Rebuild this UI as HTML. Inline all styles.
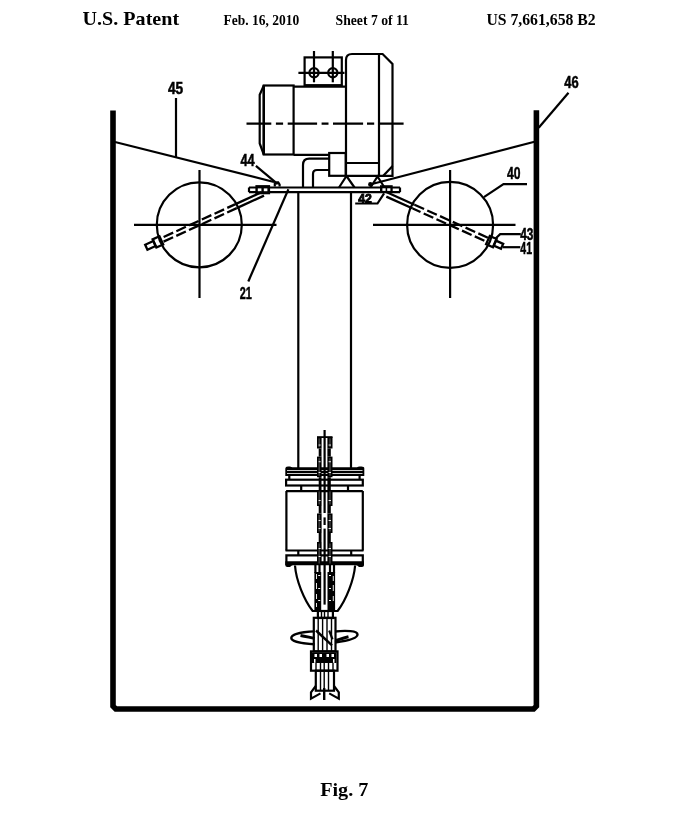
<!DOCTYPE html>
<html><head><meta charset="utf-8">
<style>
html,body{margin:0;padding:0;background:#fff;}
body{width:689px;height:816px;overflow:hidden;position:relative;}
svg{position:absolute;left:0;top:0;will-change:transform;}
.hd{font-family:"Liberation Serif",serif;font-weight:bold;fill:#000;}
.lb{font-family:"Liberation Sans",sans-serif;font-weight:bold;fill:#000;stroke:#000;stroke-width:0.5;}
</style></head><body>
<svg width="689" height="816" viewBox="0 0 689 816">
<!-- header -->
<text class="hd" x="82.6" y="24.8" font-size="19" textLength="96.5" lengthAdjust="spacingAndGlyphs">U.S. Patent</text>
<text class="hd" x="223.4" y="24.6" font-size="14" textLength="75.8" lengthAdjust="spacingAndGlyphs">Feb. 16, 2010</text>
<text class="hd" x="335.6" y="24.6" font-size="14" textLength="73.3" lengthAdjust="spacingAndGlyphs">Sheet 7 of 11</text>
<text class="hd" x="486.4" y="24.6" font-size="16" textLength="109.3" lengthAdjust="spacingAndGlyphs">US 7,661,658 B2</text>
<text class="hd" x="320.2" y="796" font-size="19.8" textLength="48.2" lengthAdjust="spacingAndGlyphs">Fig. 7</text>

<g fill="none" stroke="#000" stroke-width="2.2" stroke-linecap="butt" stroke-linejoin="miter">
<!-- tank -->
<path d="M113,110.6 L113,706.2 L115.8,709 L533.6,709 L536.4,706.2 L536.4,110.3" stroke-width="5.6"/>
<!-- sloped covers -->
<line x1="115" y1="142" x2="274" y2="182"/>
<line x1="534.5" y1="141.8" x2="371" y2="184.2"/>
<path d="M274.8,186.5 L274.8,183.6 Q275.5,182.4 277,182.4 L278.2,182.4 L279.6,184.6 L279.6,186.5"/>
<!-- leaders -->
<line x1="176" y1="98" x2="176" y2="157.5"/>
<line x1="538.7" y1="127.8" x2="568.5" y2="92.7"/>
<line x1="255.9" y1="165.8" x2="277.7" y2="184.1"/>
<line x1="288.4" y1="189.2" x2="248.3" y2="281.5"/>
<polyline points="483.9,197.2 503.5,184.2 527,184.2"/>
<polyline points="355.2,203.5 377.5,203.5 384.1,193.4"/>
<polyline points="495,239 500.2,234.1 520.8,234.1"/>
<line x1="503" y1="247.2" x2="520.3" y2="247.2"/>

<!-- circles -->
<circle cx="199.3" cy="224.8" r="42.5"/>
<line x1="134" y1="224.9" x2="276.5" y2="224.9"/>
<line x1="199.5" y1="170" x2="199.5" y2="298"/>
<circle cx="450.1" cy="224.9" r="43"/>
<line x1="373" y1="224.9" x2="515.5" y2="224.9"/>
<line x1="450.1" y1="170" x2="450.1" y2="298"/>

<!-- shaft column -->
<line x1="298.3" y1="192" x2="298.3" y2="468"/>
<line x1="351" y1="192" x2="351" y2="468"/>

<!-- plate -->
<line x1="249" y1="187.5" x2="400" y2="187.5"/>
<line x1="249" y1="192.2" x2="400" y2="192.2"/>
<line x1="249" y1="187.5" x2="249" y2="192.2"/>
<line x1="400" y1="187.5" x2="400" y2="192.2"/>

<!-- motor -->
<path d="M263.8,85.5 L259.7,94.7 L259.7,143.5 L263.8,154.5"/>
<rect x="263.8" y="85.5" width="29.8" height="69"/>
<line x1="263.8" y1="85.5" x2="263.8" y2="154.5" stroke-width="2.4"/>
<path d="M293.6,86.6 L346,86.6 M293.6,154.8 L329,154.8"/>
<rect x="304.6" y="57.4" width="37.2" height="28"/>
<line x1="304.1" y1="85.6" x2="342" y2="85.6" stroke-width="2.6"/>
<line x1="314" y1="51" x2="314" y2="82.3"/>
<line x1="332.8" y1="51" x2="332.8" y2="82.3"/>
<line x1="298.4" y1="72.9" x2="344.5" y2="72.9"/>
<circle cx="314" cy="72.8" r="4.6"/>
<circle cx="332.8" cy="72.8" r="4.6"/>
<!-- housing -->
<path d="M346,175.8 L346,60 Q346,54 352,54 L382.6,54 L392.5,64 L392.5,175.8 Z"/>
<line x1="379" y1="54" x2="379" y2="175.8"/>
<line x1="346" y1="163" x2="379" y2="163"/>
<line x1="392.6" y1="166" x2="383.3" y2="175.8"/>
<rect x="329.2" y="153" width="16.5" height="22.8"/>
<!-- pipe -->
<path d="M303,187.5 L303,165 Q303,158.7 309.3,158.7 L329,158.7"/>
<path d="M313,187.5 L313,174 Q313,170 317,170 L329,170"/>
<!-- supports -->
<polyline points="339,187.5 346.5,176 354.5,187.5"/>
<polyline points="370.5,187.5 377.5,176.5 384.5,187.5"/>
<!-- center line -->
<path d="M246.5,123.7 H271.3 M275.9,123.7 H283.1 M287.7,123.7 H317.1 M321.6,123.7 H328.5 M333,123.7 H363.1 M367,123.7 H374.2 M378.1,123.7 H403.6"/>
</g>

<!-- bolts -->
<g fill="#000">
<circle cx="370.4" cy="184.4" r="2.3"/>
<rect x="255.4" y="185.1" width="14.7" height="9.2"/>
<rect x="380" y="185.2" width="12.7" height="7.7"/>
</g>
<g fill="#fff">
<rect x="257.8" y="188.4" width="3.6" height="2.8"/>
<rect x="263.8" y="188.4" width="3.6" height="2.8"/>
<rect x="382.4" y="188.3" width="3.2" height="2.6"/>
<rect x="387.2" y="188.3" width="3.2" height="2.6"/>
</g>

<!-- rods -->
<g fill="none" stroke="#000" stroke-width="2.3">
<g transform="translate(199.5,222.9) rotate(155.4)">
  <line x1="-70" y1="-2.1" x2="-40" y2="-2.1"/>
  <line x1="-69" y1="2.1" x2="-40" y2="2.1"/>
  <line x1="-40" y1="-2.1" x2="42" y2="-2.1" stroke-dasharray="10.5 3.5"/>
  <line x1="-40" y1="2.1" x2="42" y2="2.1" stroke-dasharray="10.5 3.5" stroke-dashoffset="2"/>
  <rect x="42" y="-4.5" width="7.5" height="9"/>
  <rect x="49.5" y="-2.7" width="9" height="5.4"/>
</g>
<g transform="translate(450.1,223.0) rotate(24.2)">
  <line x1="-71" y1="-2.1" x2="-40" y2="-2.1"/>
  <line x1="-69" y1="2.1" x2="-40" y2="2.1"/>
  <line x1="-40" y1="-2.1" x2="41.5" y2="-2.1" stroke-dasharray="10.5 3.5"/>
  <line x1="-40" y1="2.1" x2="41.5" y2="2.1" stroke-dasharray="10.5 3.5" stroke-dashoffset="2"/>
  <rect x="41.5" y="-4.5" width="7.5" height="9"/>
  <rect x="49" y="-2.7" width="8" height="5.4"/>
</g>
</g>

<!-- lower mechanism -->
<g fill="none" stroke="#000" stroke-width="2.2">
<line x1="289.3" y1="475.5" x2="289.3" y2="479.7"/>
<line x1="359.6" y1="475.5" x2="359.6" y2="479.7"/>
<rect x="286.1" y="479.7" width="76.7" height="5.8"/>
<line x1="286.1" y1="491.1" x2="362.8" y2="491.1"/>
<line x1="301.2" y1="485.5" x2="301.2" y2="491.1"/>
<line x1="348" y1="485.5" x2="348" y2="491.1"/>
<path d="M286.4,491.1 L286.4,550.5 M362.8,491.1 L362.8,550.5"/>
<line x1="285.5" y1="550.5" x2="363.5" y2="550.5"/>
<line x1="298.3" y1="550.5" x2="298.3" y2="555.4"/>
<line x1="351.2" y1="550.5" x2="351.2" y2="555.4"/>
<path d="M286.4,565 L286.4,555.4 L362.8,555.4 L362.8,565"/>
<path d="M295,565.5 C296,580 304,600 312.7,611 L337.6,611 C346,600 354,580 355.1,565.5"/>
<line x1="315.4" y1="565" x2="315.4" y2="573"/>
<line x1="319.5" y1="565" x2="319.5" y2="573"/>
<line x1="330" y1="565" x2="330" y2="573"/>
<line x1="334" y1="565" x2="334" y2="573"/>
<rect x="317.9" y="611" width="15" height="7"/>
<rect x="313.8" y="617.8" width="21.7" height="33.6"/>
<rect x="311" y="651.4" width="26.5" height="19.3"/>
<rect x="315.8" y="670.7" width="18.2" height="20"/>
<path d="M314.6,631.4 C303,631.8 291.3,634 291.3,638.1 C291.3,641.5 302,643.6 314.6,644.2" stroke-width="2.4"/>
<path d="M335,631.5 C346,630.3 357.5,630.8 357.5,634.5 C357.5,638 348,640.8 335,642.5" stroke-width="2.4"/>
<path d="M300.5,635.4 C306,636.4 310,637.5 314.6,638.4" stroke-width="3"/>
<path d="M336,640.5 C340,639.2 344,637.8 348.5,636.8" stroke-width="3"/>
<line x1="316" y1="630.5" x2="332" y2="645.4" stroke-width="2.4"/>
<line x1="329.2" y1="630.5" x2="332.5" y2="639.3"/>
<path d="M315.8,686 L311,692.3 L311,698.6 L320.5,693.4"/>
<path d="M334,686 L338.8,692.3 L338.8,698.6 L329.2,693.4"/>
<line x1="324.2" y1="688" x2="324.2" y2="700" stroke-width="2.4"/>
</g>
<g fill="none" stroke="#000" stroke-width="1.4">
<line x1="318.2" y1="618" x2="318.2" y2="651"/>
<line x1="322.6" y1="618" x2="322.6" y2="651"/>
<line x1="327" y1="618" x2="327" y2="651"/>
<line x1="331.5" y1="618" x2="331.5" y2="651"/>
<line x1="320.5" y1="671" x2="320.5" y2="691"/>
<line x1="324.2" y1="671" x2="324.2" y2="691"/>
<line x1="328.5" y1="671" x2="328.5" y2="691"/>
<line x1="316" y1="663" x2="316" y2="670"/>
<line x1="320.5" y1="663" x2="320.5" y2="670"/>
<line x1="324.2" y1="663" x2="324.2" y2="670"/>
<line x1="328.5" y1="663" x2="328.5" y2="670"/>
<line x1="333" y1="663" x2="333" y2="670"/>
<line x1="321.5" y1="611" x2="321.5" y2="618"/>
<line x1="324.5" y1="611" x2="324.5" y2="618"/>
<line x1="328" y1="611" x2="328" y2="618"/>
</g>
<g fill="#000">
<path d="M285.3,561.3 L364,561.3 L364,565.2 Q364,567 362,567 L359,567 Q357.5,565.3 356,565.3 L293,565.3 Q291.5,565.3 290,567 L287.3,567 Q285.3,567 285.3,565.2 Z"/>
<path d="M285.3,468.5 Q285.3,466.6 288,466.6 L290,466.6 Q291.5,467.3 292.5,467.3 L357,467.3 Q358,466.6 359.6,466.6 L361.5,466.6 Q364.3,466.6 364.3,468.5 L364.3,476 L285.3,476 Z"/>
<rect x="312" y="652.4" width="24.5" height="10.6"/>
</g>
<g fill="#fff">
<rect x="287" y="470.1" width="75.5" height="0.8"/>
<rect x="287" y="473.1" width="75.5" height="0.8"/>
<rect x="314.5" y="654" width="2.5" height="3"/>
<rect x="319.5" y="654" width="2.5" height="3"/>
<rect x="326.5" y="654" width="2.5" height="3"/>
<rect x="331.5" y="654" width="2.5" height="3"/>
<rect x="314" y="659" width="1.5" height="3.8"/>
<rect x="333" y="659" width="1.5" height="3.8"/>
</g>
<!-- inner shaft -->
<g fill="#000">
<rect x="317" y="436.9" width="4.6" height="11.6"/>
<rect x="327.4" y="436.9" width="5.1" height="11.6"/>
<rect x="318.7" y="448.5" width="2.8" height="8.1"/>
<rect x="327.4" y="448.5" width="3.4" height="8.1"/>
<rect x="317" y="456.6" width="4.6" height="20.6"/>
<rect x="327.4" y="456.6" width="5.1" height="20.6"/>
<rect x="318.7" y="477.2" width="2.8" height="12.8"/>
<rect x="327.4" y="477.2" width="3.4" height="12.8"/>
<rect x="317" y="490" width="4.6" height="16"/>
<rect x="327.4" y="490" width="5.1" height="16"/>
<rect x="318.7" y="506" width="2.8" height="7.5"/>
<rect x="327.4" y="506" width="3.4" height="7.5"/>
<rect x="317" y="513.5" width="4.6" height="19.5"/>
<rect x="327.4" y="513.5" width="5.1" height="19.5"/>
<rect x="318.7" y="533" width="2.8" height="9"/>
<rect x="327.4" y="533" width="3.4" height="9"/>
<rect x="317" y="542" width="4.6" height="23"/>
<rect x="327.4" y="542" width="5.1" height="23"/>
<rect x="314.4" y="572" width="6.8" height="39"/>
<rect x="327.5" y="572" width="7.6" height="39"/>
<rect x="323.5" y="430" width="2.2" height="83"/>
<rect x="323.5" y="517.4" width="2.2" height="7.6"/>
<rect x="323.5" y="528.6" width="2.2" height="76"/>
<rect x="317" y="436.2" width="15.5" height="1.8"/>
</g>
<g fill="#3a3a3a">
<rect x="318.4" y="438.4" width="1.6" height="8.6"/><rect x="329.2" y="438.4" width="1.6" height="8.6"/>
<rect x="318.4" y="458.1" width="1.6" height="17.6"/><rect x="329.2" y="458.1" width="1.6" height="17.6"/>
<rect x="318.4" y="491.5" width="1.6" height="13"/><rect x="329.2" y="491.5" width="1.6" height="13"/>
<rect x="318.4" y="515.0" width="1.6" height="16.5"/><rect x="329.2" y="515.0" width="1.6" height="16.5"/>
<rect x="318.4" y="543.5" width="1.6" height="20"/><rect x="329.2" y="543.5" width="1.6" height="20"/>
</g>
<g fill="#fff">
<rect x="318.6" y="444.6" width="2" height="0.9"/><rect x="328.6" y="444.6" width="2.4" height="0.9"/>
<rect x="318.6" y="461.3" width="2" height="0.9"/><rect x="328.6" y="461.3" width="2.4" height="0.9"/>
<rect x="318.6" y="472" width="2" height="0.9"/><rect x="328.6" y="472" width="2.4" height="0.9"/>
<rect x="318.6" y="500" width="2" height="0.9"/><rect x="328.6" y="500" width="2.4" height="0.9"/>
<rect x="318.6" y="520" width="2" height="0.9"/><rect x="328.6" y="520" width="2.4" height="0.9"/>
<rect x="318.6" y="528" width="2" height="0.9"/><rect x="328.6" y="528" width="2.4" height="0.9"/>
<rect x="318.6" y="548" width="2" height="0.9"/><rect x="328.6" y="548" width="2.4" height="0.9"/>
<rect x="318.6" y="556" width="2" height="0.9"/><rect x="328.6" y="556" width="2.4" height="0.9"/>
<rect x="318.2" y="575" width="2" height="1"/><rect x="329" y="575" width="2" height="1"/>
<rect x="318.2" y="588" width="2" height="1"/><rect x="329" y="588" width="2" height="1"/>
<rect x="318.2" y="600" width="2" height="1"/><rect x="329" y="600" width="2" height="1"/>
<rect x="316" y="574" width="0.9" height="5"/><rect x="316" y="583" width="0.9" height="6"/><rect x="316" y="594" width="0.9" height="5"/><rect x="316" y="603" width="0.9" height="4"/>
<rect x="332.8" y="576" width="0.9" height="5"/><rect x="332.8" y="585" width="0.9" height="6"/><rect x="332.8" y="596" width="0.9" height="5"/>
</g>

<!-- labels -->
<g class="lb">
<text x="167.9" y="94.4" font-size="15.8" textLength="15.2" lengthAdjust="spacingAndGlyphs">45</text>
<text x="564.2" y="88" font-size="16.5" textLength="14.4" lengthAdjust="spacingAndGlyphs">46</text>
<text x="240.5" y="165.8" font-size="16.8" textLength="14.2" lengthAdjust="spacingAndGlyphs">44</text>
<text x="507" y="178.5" font-size="17.3" textLength="13.5" lengthAdjust="spacingAndGlyphs">40</text>
<text x="358.2" y="202.6" font-size="12.8" textLength="13.6" lengthAdjust="spacingAndGlyphs" style="stroke-width:0.9">42</text>
<text x="520.2" y="240.2" font-size="15.8" textLength="13.2" lengthAdjust="spacingAndGlyphs">43</text>
<text x="520.3" y="253.5" font-size="16" textLength="11.7" lengthAdjust="spacingAndGlyphs">41</text>
<text x="239.7" y="299.3" font-size="16.5" textLength="12.1" lengthAdjust="spacingAndGlyphs">21</text>
</g>
</svg>
</body></html>
